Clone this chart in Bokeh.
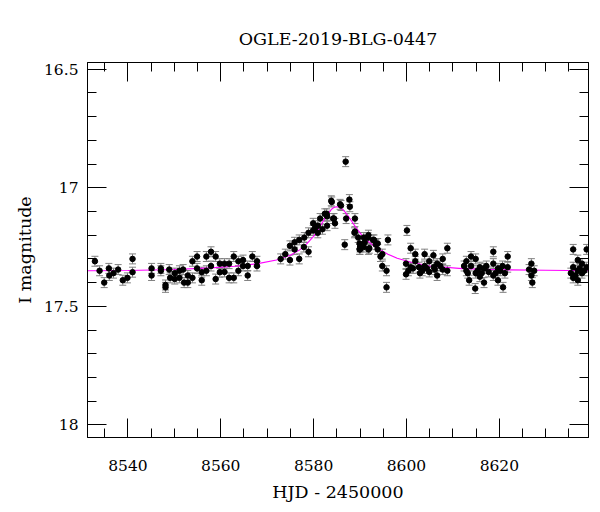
from bokeh.plotting import figure
from bokeh.models import Range1d, LinearAxis, FixedTicker, ColumnDataSource, Whisker, TeeHead
from bokeh.embed import file_html
from bokeh.resources import INLINE

TITLE = "OGLE-2019-BLG-0447"
XLABEL = "HJD - 2450000"
YLABEL = "I magnitude"

hjd = [
    8532.9, 8533.9, 8534.9, 8535.9, 8536.0, 8536.9, 8537.9, 8538.9, 8539.9, 8541.0,
    8541.0, 8545.1, 8545.1, 8547.1, 8547.1, 8548.1, 8548.1, 8548.9, 8549.1, 8550.1,
    8550.1, 8551.1, 8551.1, 8551.9, 8552.1, 8552.9, 8552.9, 8553.9, 8553.9, 8554.9,
    8554.9, 8555.9, 8555.9, 8556.9, 8556.9, 8557.9, 8557.9, 8558.9, 8558.9, 8559.8,
    8559.8, 8560.8, 8560.8, 8561.8, 8561.8, 8562.8, 8562.8, 8563.8, 8563.8, 8564.8,
    8564.8, 8565.8, 8565.8, 8566.8, 8567.8, 8567.8,
    8572.9, 8573.9, 8574.9, 8574.9, 8575.9, 8575.9, 8576.9, 8576.9, 8577.9, 8578.9,
    8578.9, 8579.9, 8579.9, 8580.9, 8580.9, 8581.9, 8582.9, 8582.9, 8583.9, 8584.2,
    8578.0, 8580.3, 8581.4, 8582.4,
    8586.9, 8583.8, 8582.8, 8584.4, 8584.6, 8585.7, 8585.9, 8587.7, 8587.8, 8587.0,
    8586.7, 8588.9, 8588.9, 8589.6, 8590.0, 8590.0, 8591.0, 8591.7, 8592.0, 8593.0,
    8593.4, 8593.8, 8594.4, 8594.8, 8596.0,
    8588.8, 8589.9, 8589.9, 8590.8, 8590.8, 8591.8, 8591.8, 8592.8, 8593.8, 8594.8,
    8595.7, 8595.7, 8600.1, 8600.9, 8599.9, 8599.9, 8600.9, 8601.9, 8601.9, 8602.7,
    8602.9, 8603.9, 8603.9, 8604.9, 8604.9, 8605.8, 8605.9, 8606.6, 8606.6, 8607.8,
    8607.8, 8608.8, 8608.8, 8612.9, 8612.9, 8613.5, 8613.9, 8613.9, 8614.8, 8614.9,
    8614.9, 8615.8, 8615.8, 8616.7, 8616.7, 8617.7, 8618.7, 8618.7, 8618.7, 8619.7,
    8619.7, 8620.7, 8620.8, 8621.8, 8621.8, 8626.9, 8626.9, 8627.1, 8627.5, 8635.9,
    8635.9, 8635.9, 8636.9, 8636.9, 8636.9, 8637.8, 8637.8, 8638.8, 8638.8,
    8600.4, 8601.4, 8603.4, 8604.4, 8606.1, 8607.3, 8612.4, 8613.2, 8615.3, 8616.2,
    8617.2, 8619.2, 8620.2, 8621.2, 8626.4, 8635.4, 8636.4, 8637.3, 8638.3,
]
imag = [
    17.31, 17.35, 17.40, 17.34, 17.37, 17.36, 17.345, 17.39, 17.38, 17.30,
    17.356, 17.34, 17.37, 17.34, 17.35, 17.41, 17.42, 17.345, 17.38, 17.36,
    17.385, 17.35, 17.38, 17.345, 17.40, 17.37, 17.40, 17.31, 17.38, 17.29,
    17.34, 17.356, 17.39, 17.35, 17.29, 17.27, 17.33, 17.29, 17.385, 17.32,
    17.356, 17.32, 17.355, 17.32, 17.38, 17.29, 17.38, 17.31, 17.35, 17.305,
    17.33, 17.37, 17.33, 17.29, 17.31, 17.33,
    17.30, 17.28, 17.305, 17.245, 17.26, 17.23, 17.22, 17.30, 17.25, 17.27,
    17.19, 17.18, 17.15, 17.19, 17.16, 17.175, 17.16, 17.12, 17.06, 17.13,
    17.21, 17.17, 17.13, 17.11,
    16.89, 17.055, 17.11, 17.13, 17.15, 17.07, 17.075, 17.05, 17.08, 17.13,
    17.24, 17.13, 17.185, 17.21, 17.25, 17.26, 17.23, 17.21, 17.255, 17.22,
    17.24, 17.26, 17.29, 17.33, 17.22,
    17.19, 17.235, 17.26, 17.21, 17.25, 17.20, 17.26, 17.22, 17.235, 17.28,
    17.35, 17.42, 17.18, 17.255, 17.32, 17.365, 17.335, 17.28, 17.31, 17.335,
    17.36, 17.28, 17.33, 17.31, 17.355, 17.285, 17.335, 17.32, 17.37, 17.30,
    17.345, 17.255, 17.35, 17.31, 17.35, 17.39, 17.29, 17.33, 17.425, 17.30,
    17.36, 17.335, 17.375, 17.34, 17.40, 17.355, 17.27, 17.32, 17.37, 17.34,
    17.39, 17.33, 17.42, 17.29, 17.335, 17.32, 17.37, 17.40, 17.35, 17.26,
    17.335, 17.38, 17.305, 17.35, 17.39, 17.32, 17.36, 17.26, 17.335,
    17.35, 17.34, 17.35, 17.34, 17.345, 17.33, 17.33, 17.36, 17.35, 17.36,
    17.33, 17.36, 17.35, 17.36, 17.345, 17.36, 17.37, 17.34, 17.35,
]
ierr = 0.021

model_hjd = [8529.0, 8540.0, 8550.0, 8558.0, 8563.0, 8568.0, 8572.0, 8575.0, 8577.0,
             8578.5, 8580.0, 8581.0, 8582.0, 8583.0, 8583.8, 8584.4, 8584.9, 8585.4,
             8586.0, 8586.8, 8587.6, 8588.5, 8589.5, 8590.5, 8591.5, 8592.5, 8593.5,
             8594.5, 8596.0, 8598.0, 8601.0, 8605.0, 8612.0, 8620.0, 8630.0, 8641.0]
model_mag = [17.350, 17.349, 17.345, 17.338, 17.331, 17.320, 17.305, 17.285, 17.262,
             17.237, 17.205, 17.176, 17.143, 17.112, 17.092, 17.083, 17.080, 17.081,
             17.087, 17.103, 17.124, 17.150, 17.178, 17.203, 17.222, 17.238, 17.252,
             17.263, 17.280, 17.297, 17.314, 17.330, 17.341, 17.346, 17.348, 17.350]

x_major = [8540, 8560, 8580, 8600, 8620]
x_minor = [8535 + 5 * i for i in range(21)]
y_major = [16.5, 17.0, 17.5, 18.0]
y_minor = [round(16.5 + 0.1 * i, 1) for i in range(16)]
y_labels = {16.5: "16.5", 17.0: "17", 17.5: "17.5", 18.0: "18"}

FONT = "DejaVu Serif"

p = figure(frame_width=501, frame_height=375, output_backend="svg", toolbar_location=None,
           x_range=Range1d(8531.3, 8639.2), y_range=Range1d(18.053, 16.472),
           min_border_left=87, min_border_right=4, min_border_top=62, min_border_bottom=64)
p.grid.visible = False
p.outline_line_color = "black"
p.background_fill_color = "white"

p.title.text = TITLE
p.title.align = "center"
p.title.text_font = FONT
p.title.text_font_size = "17.5px"
p.title.text_font_style = "normal"
p.title.text_color = "black"
p.title.standoff = 27


def style_axis(ax, ticks, minor, labels=True):
    ax.ticker = FixedTicker(ticks=ticks, minor_ticks=minor)
    ax.major_tick_in = 19
    ax.major_tick_out = 0
    ax.minor_tick_in = 9
    ax.minor_tick_out = 0
    ax.axis_line_color = "black"
    ax.major_tick_line_color = "black"
    ax.minor_tick_line_color = "black"
    ax.major_label_text_font = FONT
    ax.major_label_text_font_size = "15.5px"
    ax.major_label_text_color = "black"
    ax.axis_label_text_font = FONT
    ax.axis_label_text_font_size = "17.5px"
    ax.axis_label_text_font_style = "normal"
    ax.axis_label_text_color = "black"
    if not labels:
        ax.major_label_text_font_size = "0px"
        ax.major_label_text_color = None


style_axis(p.xaxis[0], x_major, x_minor)
style_axis(p.yaxis[0], y_major, y_minor)
p.xaxis[0].axis_label = XLABEL
p.yaxis[0].axis_label = YLABEL
p.xaxis[0].major_label_standoff = 22
p.yaxis[0].major_label_standoff = 9
p.xaxis[0].axis_label_standoff = 8
p.yaxis[0].axis_label_standoff = 6
p.yaxis[0].major_label_overrides = y_labels

top_ax = LinearAxis()
style_axis(top_ax, x_major, x_minor, labels=False)
p.add_layout(top_ax, "above")
right_ax = LinearAxis()
style_axis(right_ax, y_major, y_minor, labels=False)
p.add_layout(right_ax, "right")

src = ColumnDataSource(dict(x=hjd, y=imag,
                            lo=[v + ierr for v in imag], hi=[v - ierr for v in imag]))
wh = Whisker(base="x", upper="hi", lower="lo", source=src, dimension="height",
             line_color="#808080", line_width=1,
             upper_head=TeeHead(size=7, line_color="#808080", line_width=1),
             lower_head=TeeHead(size=7, line_color="#808080", line_width=1))
p.add_layout(wh)

p.line(model_hjd, model_mag, line_color="#ff00ff", line_width=1.1)
p.scatter("x", "y", source=src, size=5.5, fill_color="black", line_color="black")

open("out.html", "w").write(file_html(p, INLINE))
